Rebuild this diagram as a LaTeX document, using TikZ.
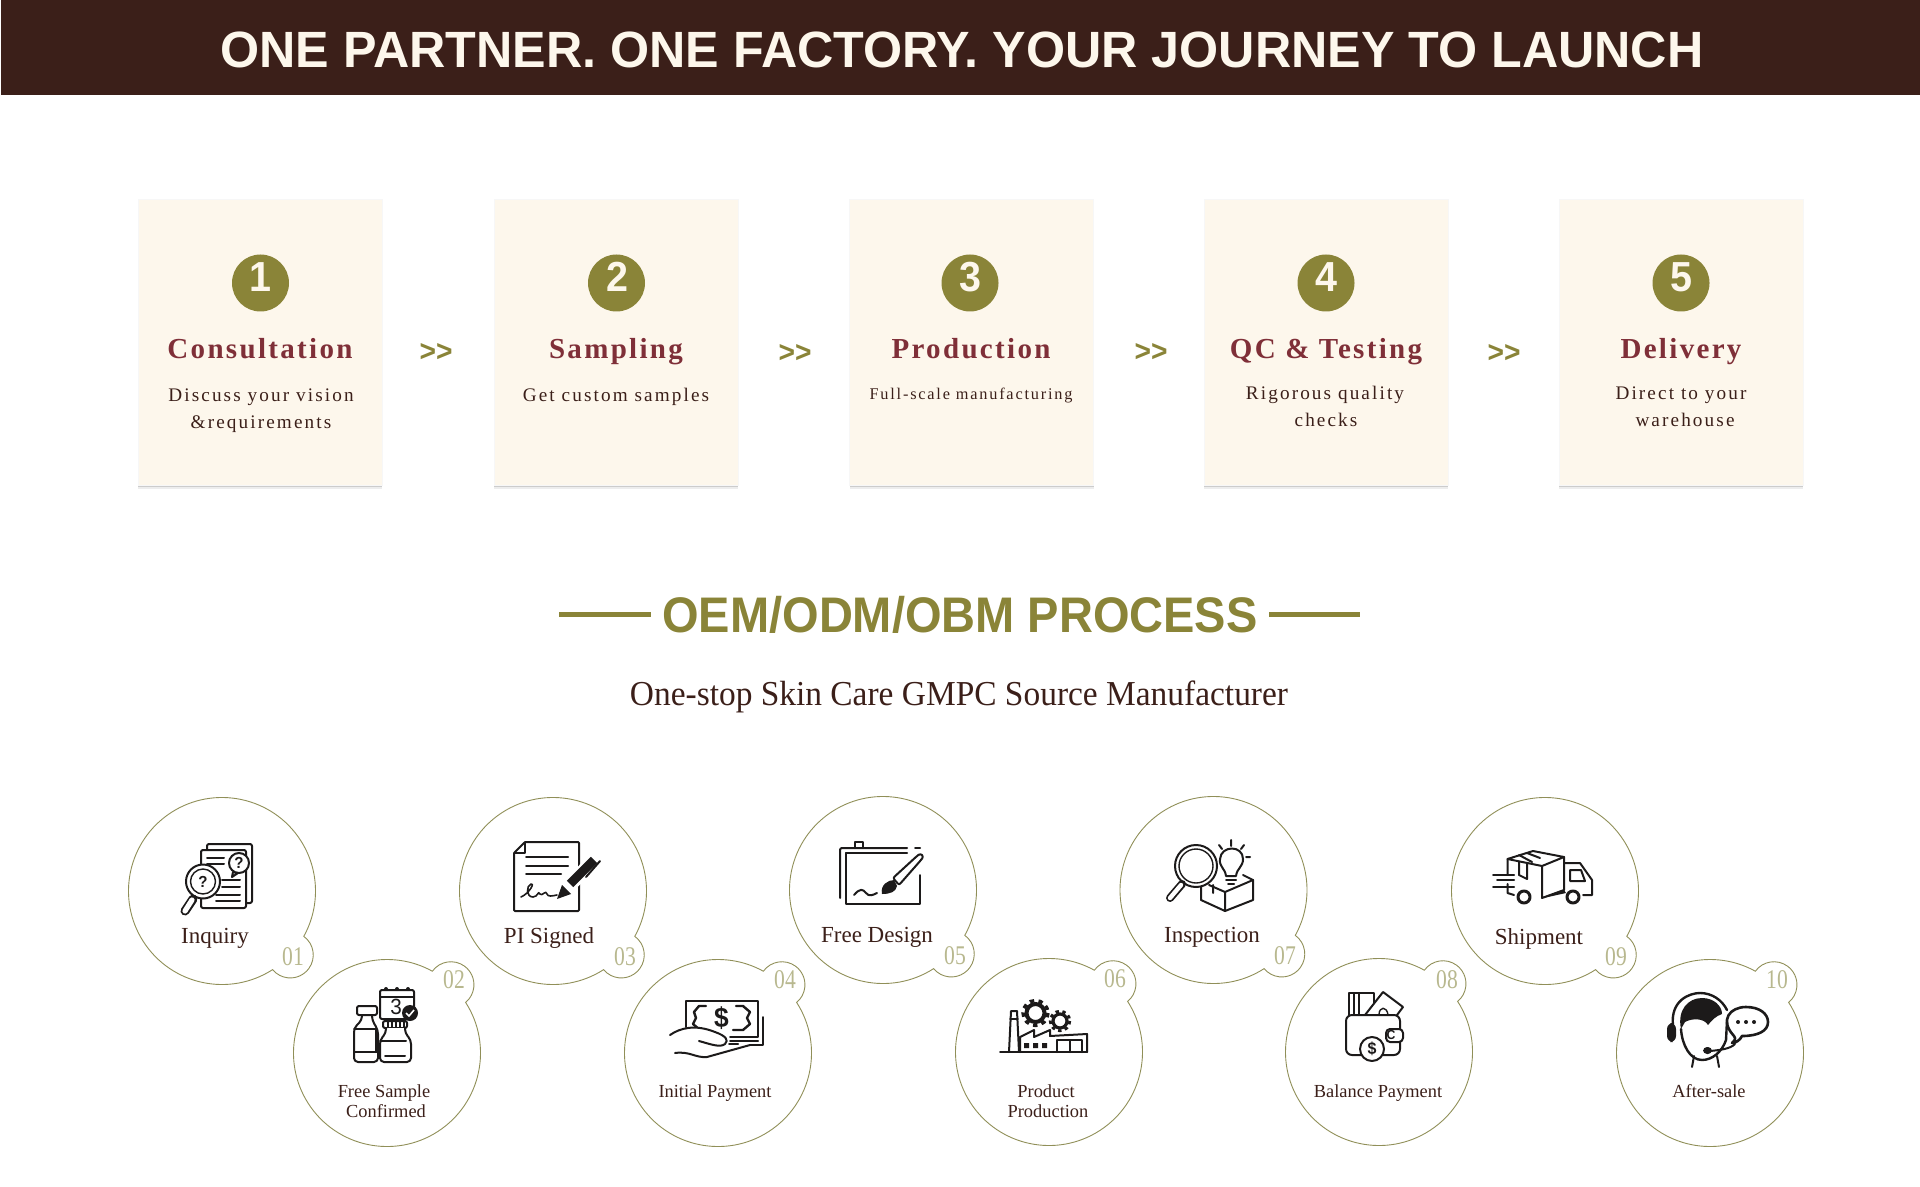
\documentclass[tikz,border=0pt]{standalone}
\usepackage{fontspec}
\setmainfont{Liberation Serif}
\newfontfamily\bannerfont[FakeStretch=0.985]{Liberation Sans}
\newfontfamily\headfont[FakeStretch=0.94]{Liberation Sans}
\newfontfamily\titlefont[LetterSpace=8]{Liberation Serif}
\newfontfamily\descfont[LetterSpace=11]{Liberation Serif}
\newfontfamily\subfont[FakeStretch=0.955]{Liberation Serif}
\newfontfamily\numfont[FakeStretch=0.8]{Liberation Serif}
\usetikzlibrary{shadows}
\definecolor{headbrown}{HTML}{3B1F19}
\definecolor{cream}{HTML}{FDF7EC}
\definecolor{olive}{HTML}{8A8438}
\definecolor{wine}{HTML}{7F2F38}
\definecolor{ringline}{HTML}{908F58}
\definecolor{numgrey}{HTML}{B8B88F}
\definecolor{inkblack}{HTML}{1C1A1A}
\tikzset{
    stagecard/.style={fill=cream, draw=black!3, line width=0.3pt, minimum width=122pt, minimum height=143pt, inner sep=0pt,
        drop shadow={shadow xshift=0pt, shadow yshift=-1.8pt, opacity=0.07, fill=black},
        drop shadow={shadow xshift=0pt, shadow yshift=-0.9pt, opacity=0.14, fill=black}},
    stagedot/.style={circle, fill=olive, minimum size=28.5pt, inner sep=0pt},
    stagedigit/.style={anchor=base, inner sep=0pt, text=cream, font=\headfont\bfseries\fontsize{21}{21}\selectfont},
    stagetitle/.style={anchor=base, inner sep=0pt, text=wine, font=\titlefont\bfseries\fontsize{14.5}{14.5}\selectfont},
    stagedesc/.style={anchor=base, inner sep=0pt, text=headbrown, font=\descfont\fontsize{9.6}{9.6}\selectfont},
    stagegap/.style={anchor=center, inner sep=0pt, text=olive, font=\headfont\bfseries\fontsize{15}{15}\selectfont},
    ring/.style={draw=ringline, line width=0.45pt},
    ringbig/.style={anchor=base, inner sep=0pt, text=headbrown, font=\fontsize{11.5}{11.5}\selectfont},
    ringsmall/.style={anchor=base, inner sep=0pt, text=headbrown, font=\fontsize{9.2}{9.2}\selectfont},
    ringnum/.style={anchor=base, inner sep=0pt, text=numgrey, font=\numfont\fontsize{13.5}{13.5}\selectfont},
    ico/.style={draw=inkblack, line width=1pt, line join=round, line cap=round},
    icothin/.style={draw=inkblack, line width=0.7pt, line join=round, line cap=round},
    icoglyph/.style={inner sep=0pt, text=inkblack},
}
% ring with its small bump for the number
\newcommand{\procring}[3]{%
    \draw[ring] (#1,#2) ++({#3+14}:93.5) arc[start angle={#3+14}, delta angle=332, radius=93.5]
        arc[start angle={#3-97}, delta angle=194, radius=23];
}
\begin{document}
\begin{tikzpicture}[x=0.5pt, y=-0.5pt]
    \useasboundingbox (0,0) rectangle (1920,1187);
    % banner
    \fill[headbrown] (1,0) rectangle (1920,95);
    \node[anchor=base, inner sep=0pt, text=cream, font=\bannerfont\bfseries\fontsize{25.5}{25.5}\selectfont] (banner) at (962,68) {ONE PARTNER. ONE FACTORY. YOUR JOURNEY TO LAUNCH};

    % stage cards
    \node[stagecard] (card1) at (260,342.5) {};
    \node[stagecard] (card2) at (616,342.5) {};
    \node[stagecard] (card3) at (971.5,342.5) {};
    \node[stagecard] (card4) at (1326,342.5) {};
    \node[stagecard] (card5) at (1681,342.5) {};

    \node[stagedot] (dot1) at (260.5,283) {};
    \node[stagedot] (dot2) at (616.5,283) {};
    \node[stagedot] (dot3) at (970,283) {};
    \node[stagedot] (dot4) at (1326,283) {};
    \node[stagedot] (dot5) at (1681,283) {};
    \node[stagedigit] (digit1) at (260,292) {1};
    \node[stagedigit] (digit2) at (617,292) {2};
    \node[stagedigit] (digit3) at (970,292) {3};
    \node[stagedigit] (digit4) at (1326,292) {4};
    \node[stagedigit] (digit5) at (1681,292) {5};

    \node[stagetitle] (title1) at (260,358) {Consultation};
    \node[stagetitle] (title2) at (616,358) {Sampling};
    \node[stagetitle] (title3) at (971,358) {Production};
    \node[stagetitle] (title4) at (1326,358) {QC \& Testing};
    \node[stagetitle] (title5) at (1681,358) {Delivery};

    \node[stagedesc] (desc1a) at (261,401) {Discuss your vision};
    \node[stagedesc] (desc1b) at (261,428) {\&requirements};
    \node[stagedesc] (desc2a) at (616,401) {Get custom samples};
    \node[stagedesc, font=\descfont\fontsize{8.15}{8.15}\selectfont] (desc3a) at (971,400) {Full-scale manufacturing};
    \node[stagedesc] (desc4a) at (1325,400) {Rigorous quality};
    \node[stagedesc] (desc4b) at (1326,426.5) {checks};
    \node[stagedesc] (desc5a) at (1681,400) {Direct to your};
    \node[stagedesc] (desc5b) at (1685,426.5) {warehouse};

    \node[stagegap] (gap1) at (436,352) {>>};
    \node[stagegap] (gap2) at (795,353) {>>};
    \node[stagegap] (gap3) at (1151,352) {>>};
    \node[stagegap] (gap4) at (1504,353) {>>};

    % section heading
    \node[anchor=base, inner sep=0pt, text=olive, font=\headfont\bfseries\fontsize{25}{25}\selectfont] (oemtitle) at (960,632) {OEM/ODM/OBM PROCESS};
    \fill[olive] (559,611.5) rectangle (650.5,616.5);
    \fill[olive] (1269,611.5) rectangle (1360,616.5);
    \node[anchor=base, inner sep=0pt, text=headbrown, font=\subfont\fontsize{17.5}{17.5}\selectfont] (oemsub) at (959,705) {One-stop Skin Care GMPC Source Manufacturer};

    % rings
    \procring{222}{891}{43}
    \procring{387}{1053}{-47}
    \procring{553}{891}{43}
    \procring{718}{1053}{-47}
    \procring{883}{890}{43}
    \procring{1049}{1052}{-47}
    \procring{1213.5}{890}{43}
    \procring{1379}{1052}{-47}
    \procring{1545}{891}{43}
    \procring{1710}{1053}{-47}

    \node[ringbig] (lab1) at (215,943) {Inquiry};
    \node[ringsmall] (lab2a) at (384,1097) {Free Sample};
    \node[ringsmall] (lab2b) at (386,1117) {Confirmed};
    \node[ringbig] (lab3) at (549,943) {PI Signed};
    \node[ringsmall] (lab4) at (715,1097) {Initial Payment};
    \node[ringbig] (lab5) at (877,942) {Free Design};
    \node[ringsmall] (lab6a) at (1046,1097) {Product};
    \node[ringsmall] (lab6b) at (1048,1117) {Production};
    \node[ringbig] (lab7) at (1212,942) {Inspection};
    \node[ringsmall] (lab8) at (1378,1097) {Balance Payment};
    \node[ringbig] (lab9) at (1539,944) {Shipment};
    \node[ringsmall] (lab10) at (1709,1097) {After-sale};

    \node[ringnum] (num1) at (293,965) {01};
    \node[ringnum] (num2) at (454,988) {02};
    \node[ringnum] (num3) at (625,965) {03};
    \node[ringnum] (num4) at (785,988) {04};
    \node[ringnum] (num5) at (955,964) {05};
    \node[ringnum] (num6) at (1115,987) {06};
    \node[ringnum] (num7) at (1285,964) {07};
    \node[ringnum] (num8) at (1447,988) {08};
    \node[ringnum] (num9) at (1616,965) {09};
    \node[ringnum] (num10) at (1777,988) {10};

    % icon: inquiry
    \draw[ico, rounded corners=1] (207,850) -- (207,844) -- (252,844) -- (252,903) -- (246,903);
    \draw[ico, fill=white, rounded corners=1] (201,850) rectangle (246,908);
    \draw[ico] (207,858) -- (224,858) (207,864) -- (224,864) (222,880) -- (240,880) (222,887) -- (240,887) (216,895) -- (240,895) (216,901) -- (240,901);
    \draw[ico, fill=white] (233,872) -- (232,877) -- (238,873) -- cycle;
    \draw[ico, fill=white] (239,863) circle[radius=10];
    \node[icoglyph, font=\headfont\bfseries\fontsize{8}{8}\selectfont] (mark1) at (239,863) {?};
    \draw[ico, fill=white] (203,881.5) circle[radius=17];
    \draw[icothin] (203,881.5) circle[radius=12.5];
    \node[icoglyph, font=\headfont\bfseries\fontsize{8}{8}\selectfont] (mark2) at (203,881.5) {?};
    \draw[inkblack, line width=4.5pt, line cap=round] (193,899) -- (185,911);
    \draw[white, line width=2.6pt, line cap=round] (192,900) -- (185,911);

    % icon: free sample
    \draw[ico, rounded corners=1] (380,990) rectangle (414,1019);
    \draw[icothin] (380,997) -- (414,997);
    \fill[inkblack] (386,989) circle[radius=2] (397,989) circle[radius=2] (408,989) circle[radius=2];
    \node[icoglyph, font=\headfont\fontsize{11}{11}\selectfont] (cal3) at (396,1007) {3};
    \fill[inkblack] (410,1013) circle[radius=8];
    \draw[white, line width=0.8pt] (406,1013) -- (409,1016) -- (414,1010);
    \draw[ico, rounded corners=1] (357,1006) rectangle (377,1015);
    \draw[ico, rounded corners=2] (362,1015) -- (362,1020) -- (354,1028) -- (354,1062) -- (378,1062) -- (378,1030) -- (372,1020) -- (372,1015);
    \draw[ico] (354,1029) -- (376,1029) (354,1052) -- (378,1052) (376,1029) -- (376,1052);
    \draw[ico, fill=white, rounded corners=1] (383,1021) rectangle (407,1028);
    \draw[icothin] (388,1022) -- (388,1028) (392,1022) -- (392,1028) (396,1022) -- (396,1028) (400,1022) -- (400,1028) (404,1022) -- (404,1028);
    \draw[ico, fill=white, rounded corners=2] (386,1028) -- (386,1033) -- (380,1040) -- (380,1062) -- (411,1062) -- (411,1040) -- (405,1033) -- (405,1028);
    \draw[ico] (380,1041) -- (406,1041) (385,1056) -- (405,1056);

    % icon: pi signed
    \draw[ico, rounded corners=0.5] (525,842) -- (579,842) -- (579,911) -- (514,911) -- (514,853) -- cycle;
    \draw[ico] (514,853) -- (525,853) -- (525,842);
    \draw[ico] (526,857) -- (568,857) (526,866) -- (568,866) (526,874) -- (561,874);
    \draw[ico, line width=0.8pt] (521,897) .. controls (530,893) and (535,882) .. (531,884) .. controls (526,886) and (526,897) .. (533,897) .. controls (538,897) and (538,890) .. (540,894) .. controls (542,897) and (546,889) .. (547,894) .. controls (548,897) and (552,896) .. (557,895);
    \draw[white, line width=7pt] (564,891) -- (597,857);
    \fill[inkblack] (557,899) -- (562,885) -- (571,894) -- cycle;
    \draw[inkblack, line width=4.5pt] (570,884) -- (594,860);
    \draw[white, line width=0.8pt] (563,884) -- (572,893);
    \draw[inkblack, line width=1pt, line cap=round] (586,877) -- (600,861);

    % icon: initial payment
    \draw[ico] (686,1027) -- (686,1001) -- (758,1001) -- (758,1037) -- (730,1037);
    \draw[ico] (763,1017) -- (763,1045) -- (750,1045) (758,1041) -- (730,1041);
    \draw[ico, line width=1.2pt] (706,1006) -- (699,1006) -- (694,1012) -- (696,1018) -- (693,1024) -- (700,1030) -- (706,1030);
    \draw[ico, line width=1.2pt] (736,1006) -- (743,1006) -- (750,1012) -- (747,1018) -- (750,1024) -- (743,1030) -- (733,1030);
    \node[icoglyph, font=\headfont\bfseries\fontsize{14}{14}\selectfont] (dollar1) at (721.5,1018) {\$};
    \draw[ico, fill=white] (670,1035) .. controls (680,1028) and (695,1024) .. (715,1032) .. controls (726,1036) and (729,1040) .. (725,1044) .. controls (720,1048) and (710,1044) .. (699,1041);
    \draw[ico] (675,1053) .. controls (690,1051) and (695,1058) .. (707,1057) -- (750,1045) ;
    \draw[ico] (729,1044) -- (738,1044);

    % icon: free design
    \draw[ico, rounded corners=1] (840,898) -- (840,848) -- (907,848);
    \draw[ico] (915,848) -- (920,848);
    \draw[ico] (855,848) -- (855,842) -- (863,842) -- (863,848);
    \draw[ico] (880,853) -- (846,853) -- (846,904) -- (920,904) -- (920,875);
    \draw[ico] (846,853) -- (907,853);
    \draw[white, line width=6pt] (897,879) -- (922,858);
    \draw[ico, fill=white, rounded corners=1] (893,878) -- (917,856) .. controls (921,853) and (924,856) .. (921,860) -- (899,885) -- cycle;
    \fill[inkblack] (882,894) .. controls (880,885) and (888,880) .. (894,880) -- (897,886) .. controls (896,892) and (890,894) .. (882,894) -- cycle;
    \draw[ico] (854,895) .. controls (860,888) and (863,889) .. (866,893) .. controls (869,897) and (873,895) .. (877,893);

    % icon: product production
    \draw[ico] (1000,1052) -- (1087,1052);
    \draw[ico] (1009,1052) -- (1011,1011) -- (1017,1011) -- (1019,1052);
    \draw[icothin] (1010,1019) -- (1018,1019);
    \draw[ico] (1020,1052) -- (1020,1037) -- (1034,1030) -- (1034,1037) -- (1050,1030) -- (1050,1036) -- (1087,1034) -- (1087,1052);
    \draw[ico] (1057,1052) -- (1057,1040) -- (1082,1040) -- (1082,1052) (1070,1040) -- (1070,1052);
    \fill[inkblack] (1024,1043) rectangle (1029,1048) (1033,1043) rectangle (1038,1048) (1042,1043) rectangle (1047,1048);
    \draw[inkblack, line width=2pt] (1035.5,1013) circle[radius=9];
    \draw[inkblack, line width=1.7pt, dash pattern=on 2.2pt off 2.2pt] (1035.5,1013) circle[radius=12.5];
    \draw[inkblack, line width=1.6pt] (1060,1021) circle[radius=7];
    \draw[inkblack, line width=1.4pt, dash pattern=on 1.7pt off 1.75pt] (1060,1021) circle[radius=9.8];

    % icon: inspection
    \draw[ico] (1201,880) -- (1201,900) -- (1225,911) -- (1253,900) -- (1253,880) -- (1225,892) -- (1209,885);
    \draw[ico] (1225,892) -- (1225,911) (1243,875) -- (1253,880) (1213,885) -- (1213,893);
    \draw[ico, fill=white] (1196,866) circle[radius=21];
    \draw[icothin] (1196,866) circle[radius=17];
    \draw[inkblack, line width=4pt, line cap=round] (1182,884) -- (1170,898);
    \draw[white, line width=2.2pt, line cap=round] (1181,885) -- (1170,898);
    \draw[ico, fill=white] (1226,876) .. controls (1225,868) and (1219,867) .. (1220,859) .. controls (1221,845) and (1243,845) .. (1243,859) .. controls (1243,867) and (1237,868) .. (1236,876) -- cycle;
    \draw[ico] (1226,880) -- (1236,880) (1228,884) -- (1234,884);
    \draw[ico] (1231,840) -- (1231,846) (1219,845) -- (1222,849) (1244,845) -- (1241,849) (1246,857) -- (1250,857);

    % icon: balance payment
    \draw[ico] (1349,1015) -- (1349,993) -- (1374,993) -- (1374,1003) (1354,993) -- (1354,1015) (1359,993) -- (1359,1015);
    \draw[ico, fill=white] (1365,1015) -- (1383,992) -- (1403,1007) -- (1397,1015);
    \draw[icothin] (1379,1015) .. controls (1379,1006) and (1387,1006) .. (1388,1015);
    \draw[ico, rounded corners=3, fill=white] (1346,1015) rectangle (1400,1055);
    \draw[ico, fill=white, rounded corners=2] (1386,1029) rectangle (1403,1042);
    \node[icoglyph, font=\headfont\bfseries\fontsize{6.5}{6.5}\selectfont] (wallet1) at (1391,1035.5) {C};
    \draw[ico, fill=white] (1372,1049) circle[radius=12];
    \node[icoglyph, font=\headfont\bfseries\fontsize{8.5}{8.5}\selectfont] (coin1) at (1372,1049) {\$};

    % icon: shipment
    \draw[ico] (1507.5,859) -- (1533,851) -- (1564,857) -- (1542,866) -- cycle;
    \draw[ico] (1507.5,859) -- (1507.5,874) (1507.5,884) -- (1507.5,893) -- (1514,895);
    \draw[ico] (1542,866) -- (1542,898) -- (1564,890) -- (1564,857);
    \draw[ico] (1519,855) -- (1532,862) (1527,853) -- (1540,858);
    \draw[ico] (1519,862) -- (1519,875) -- (1527,879) -- (1527,864);
    \draw[ico] (1564,863) -- (1580,863) -- (1592,880) -- (1592,895) -- (1583,895);
    \draw[ico] (1570,870) -- (1581,870) -- (1585,881) -- (1570,881) -- cycle;
    \draw[ico] (1493,875) -- (1514,875) (1497,880) -- (1514,880) (1493,887) -- (1514,887);
    \fill[inkblack] (1542,898) -- (1564,890) -- (1566,893) -- (1548,897) -- cycle;
    \draw[ico, line width=1.5pt] (1524,897) circle[radius=6];
    \draw[ico, line width=1.5pt] (1573,897) circle[radius=6];

    % icon: after-sale
    \draw[ico, line width=1.2pt] (1673,1026) .. controls (1670,1000) and (1690,993) .. (1700,993) .. controls (1712,993) and (1722,1000) .. (1727,1010);
    \fill[inkblack, rounded corners=3] (1667,1023) rectangle (1676,1042);
    \fill[inkblack] (1681,1029) .. controls (1677,1010) and (1688,998) .. (1702,998) .. controls (1714,998) and (1722,1006) .. (1722,1014) .. controls (1716,1016) and (1712,1020) .. (1708,1025) .. controls (1704,1018) and (1692,1018) .. (1685,1022) -- cycle;
    \draw[ico, line width=1.2pt] (1681,1029) .. controls (1682,1045) and (1690,1060) .. (1702,1060) .. controls (1712,1060) and (1722,1052) .. (1726,1040) -- (1727,1020);
    \draw[ico] (1694,1056) -- (1692,1067) (1717,1056) -- (1719,1067);
    \draw[ico, fill=white, line width=1.3pt] (1732,1043) .. controls (1735,1040) and (1736,1039) .. (1734,1036) .. controls (1719,1020) and (1730,1007) .. (1746,1007) .. controls (1760,1007) and (1768,1014) .. (1768,1022) .. controls (1768,1031) and (1758,1036) .. (1742,1036) .. controls (1740,1040) and (1736,1043) .. (1732,1043) -- cycle;
    \fill[inkblack] (1738,1022) circle[radius=2] (1746,1022) circle[radius=2] (1754,1022) circle[radius=2];
    \draw[ico] (1735,1044) .. controls (1730,1049) and (1720,1050) .. (1710,1051);
    \fill[inkblack, rounded corners=2] (1703,1047) rectangle (1712,1054);
\end{tikzpicture}
\end{document}
